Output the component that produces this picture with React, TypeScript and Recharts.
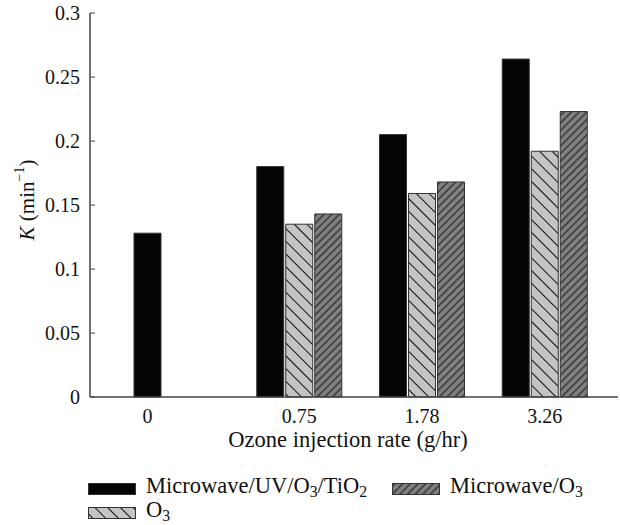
import React from "react"
import { Bar, BarChart, XAxis, YAxis, Legend } from "recharts"

const rates = ["0", "0.75", "1.78", "3.26"]
const mwUvO3TiO2 = [0.128, 0.18, 0.205, 0.264]
const o3Only = [null, 0.135, 0.159, 0.192]
const mwO3 = [null, 0.143, 0.168, 0.223]
const yTicks = [0, 0.05, 0.1, 0.15, 0.2, 0.25, 0.3]

const series = [
  { key: "mwUv", name: "Microwave/UV/O3/TiO2", fill: "#050505", values: mwUvO3TiO2 },
  { key: "o3", name: "O3", fill: "url(#hatchBack)", values: o3Only },
  { key: "mw", name: "Microwave/O3", fill: "url(#hatchFwd)", values: mwO3 },
]

const data = rates.map((rate, i) => {
  const row: Record<string, any> = { rate }
  series.forEach((s) => (row[s.key] = s.values[i]))
  return row
})

const FONT = "Liberation Serif, DejaVu Serif, serif"
const BAR = 27
const GAP = 2

// 0 only has the first series, its label sits under that bar
const onlyFirst = data.map((row) => series.slice(1).every((s) => row[s.key] == null))

function subs(name: string) {
  return name.split(/(\d)/).map((part, i) =>
    /\d/.test(part) ? (
      <sub key={i} style={{ fontSize: "0.7em", verticalAlign: "-0.25em" }}>
        {part}
      </sub>
    ) : (
      <span key={i}>{part}</span>
    )
  )
}

function XTick(props: any) {
  const { x, y, payload } = props
  const shift = onlyFirst[payload.index] ? -(BAR + GAP) : 0
  return (
    <text x={x + shift} y={y} dy="0.71em" textAnchor="middle" style={{ fontFamily: FONT }} fontSize={20} fill="#111">
      {payload.value}
    </text>
  )
}

function XLabel(props: any) {
  const vb = props.viewBox
  return (
    <text x={vb.x + vb.width / 2 - 6} y={vb.y + 42} dominantBaseline="central" textAnchor="middle" style={{ fontFamily: FONT }} fontSize={22.5} fill="#111">
      Ozone injection rate (g/hr)
    </text>
  )
}

function YLabel(props: any) {
  const vb = props.viewBox
  const cx = vb.x + 27
  const cy = vb.y + vb.height / 2 - 5
  return (
    <text x={cx} y={cy} transform={`rotate(-90 ${cx} ${cy})`} textAnchor="middle" dominantBaseline="central" style={{ fontFamily: FONT }} fontSize={21} fill="#111">
      <tspan fontStyle="italic">K</tspan>
      <tspan> (min</tspan>
      <tspan dy={-8} fontSize={14}>−1</tspan>
      <tspan dy={8}>)</tspan>
    </text>
  )
}

function Swatch({ fill }: { fill: string }) {
  return (
    <svg width={48} height={12} style={{ display: "block" }}>
      <rect x={0.5} y={0.5} width={47} height={11} fill={fill} stroke="#333" />
    </svg>
  )
}

function LegendBox() {
  return (
    <div
      style={{
        height: 48,
        paddingLeft: 88,
        display: "grid",
        gridTemplateRows: "24px 24px",
        gridTemplateColumns: "304px auto",
        gridAutoFlow: "column",
        fontFamily: FONT,
        fontSize: 22.5,
        color: "#111",
      }}
    >
      {series.map((s) => (
        <div key={s.key} style={{ display: "flex", alignItems: "center", gap: 10 }}>
          <Swatch fill={s.fill} />
          <span style={{ lineHeight: "20px" }}>{subs(s.name)}</span>
        </div>
      ))}
    </div>
  )
}

export default function App() {
  return (
    <div style={{ position: "absolute", left: 0, top: 0, background: "#fff", fontFamily: FONT }}>
      <svg width={0} height={0} style={{ position: "absolute" }}>
        <defs>
          <pattern id="hatchBack" patternUnits="userSpaceOnUse" width={9} height={9} patternTransform="rotate(45)">
            <rect width={9} height={9} fill="#c4c4c4" />
            <line x1={0} y1={4.5} x2={9} y2={4.5} stroke="#111" strokeWidth={1} />
          </pattern>
          <pattern id="hatchFwd" patternUnits="userSpaceOnUse" width={5.4} height={5.4} patternTransform="rotate(-45)">
            <rect width={5.4} height={5.4} fill="#808080" />
            <line x1={0} y1={2.7} x2={5.4} y2={2.7} stroke="#111" strokeWidth={1} />
          </pattern>
        </defs>
      </svg>
      <BarChart width={620} height={525} data={data} margin={{ top: 13, right: 2, left: 0, bottom: 0 }} barGap={GAP} barSize={BAR}>
        <XAxis
          dataKey="rate"
          height={80}
          padding={{ left: 25, right: 12 }}
          tickLine={false}
          tickMargin={6}
          tick={<XTick />}
          axisLine={{ stroke: "#444", strokeWidth: 1.5 }}
          label={<XLabel />}
        />
        <XAxis xAxisId="top" orientation="top" dataKey="rate" height={0} tick={false} tickLine={false} axisLine={{ stroke: "#444", strokeWidth: 1.5 }} />
        <YAxis
          width={90}
          domain={[0, 0.3]}
          ticks={yTicks}
          tickSize={-5}
          tickMargin={15}
          tick={{ style: { fontFamily: FONT }, fontSize: 20, fill: "#111" }}
          tickLine={{ stroke: "#444" }}
          axisLine={{ stroke: "#444", strokeWidth: 1.5 }}
          label={<YLabel />}
        />
        <YAxis yAxisId="right" orientation="right" width={0} domain={[0, 0.3]} tick={false} tickLine={false} axisLine={{ stroke: "#444", strokeWidth: 1.5 }} />
        <Legend content={<LegendBox />} wrapperStyle={{ left: 0, width: 620, height: 48 }} />
        {series.map((s) => (
          <Bar key={s.key} dataKey={s.key} name={s.name} fill={s.fill} stroke="#333" strokeWidth={1} isAnimationActive={false} />
        ))}
      </BarChart>
    </div>
  )
}
